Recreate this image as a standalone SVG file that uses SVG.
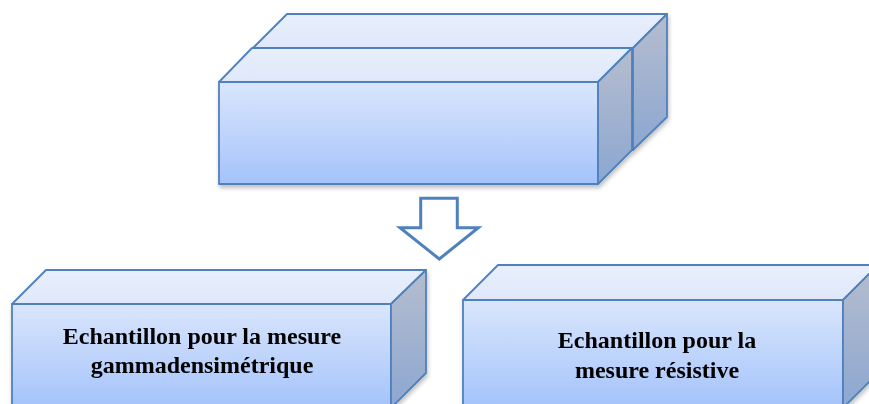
<svg xmlns="http://www.w3.org/2000/svg" width="869" height="404" viewBox="0 0 869 404">
<defs>
<linearGradient id="gFront" x1="0" y1="0" x2="0" y2="1"><stop offset="0" stop-color="#dae6fc"/><stop offset="1" stop-color="#a4c3fb"/></linearGradient>
<linearGradient id="gTop" x1="0" y1="0" x2="0" y2="1"><stop offset="0" stop-color="#e8effc"/><stop offset="1" stop-color="#dfe8fb"/></linearGradient>
<linearGradient id="gSide" x1="0" y1="0" x2="0" y2="1"><stop offset="0" stop-color="#b5bdce"/><stop offset="1" stop-color="#8ca7d1"/></linearGradient>
<filter id="sh" x="-5%" y="-5%" width="110%" height="115%"><feDropShadow dx="1" dy="3" stdDeviation="2" flood-color="#000" flood-opacity="0.25"/></filter>
</defs>
<style>
.f{fill:url(#gFront)}.t{fill:url(#gTop)}.s{fill:url(#gSide)}
.f,.t,.s{stroke:#4f81bd;stroke-width:1.8;stroke-linejoin:round}
.lbl{font-family:"Liberation Serif","Times New Roman",serif;font-weight:bold;font-size:24px;fill:#000;text-anchor:middle}
</style>
<g id="source" filter="url(#sh)">
<g id="source-back">
<rect class="f" x="253" y="48" width="380" height="102"/>
<polygon class="t" points="253,48 287,14 667,14 633,48"/>
<polygon class="s" points="633,48 667,14 667,117 633,150"/>
</g>
<g id="source-front">
<rect class="f" x="219" y="82" width="379" height="102"/>
<polygon class="t" points="219,82 252,48 632,48 598,82"/>
<polygon class="s" points="598,82 632,48 632,150 598,184"/>
</g>
</g>
<g id="connectors">
<polygon points="420.7,198.3 457.3,198.3 457.3,227.7 478.3,227.7 439.3,259 400,227.7 420.7,227.7" fill="#fff" stroke="#4f81bd" stroke-width="3" stroke-linejoin="miter"/>
</g>
<g id="sample-gamma" filter="url(#sh)">
<rect class="f" x="12" y="304" width="379" height="104"/>
<polygon class="t" points="12,304 46,270 426,270 391,304"/>
<polygon class="s" points="391,304 426,270 426,373 391,408"/>
<text class="lbl" x="202" y="344">Echantillon pour la mesure</text>
<text class="lbl" x="202" y="373">gammadensimétrique</text>
</g>
<g id="sample-resistive" filter="url(#sh)">
<rect class="f" x="463" y="300" width="380" height="108"/>
<polygon class="t" points="463,300 498,265 878,265 843,300"/>
<polygon class="s" points="843,300 878,265 878,373 843,408"/>
<text class="lbl" x="657" y="348">Echantillon pour la</text>
<text class="lbl" x="657" y="378">mesure résistive</text>
</g>
</svg>
